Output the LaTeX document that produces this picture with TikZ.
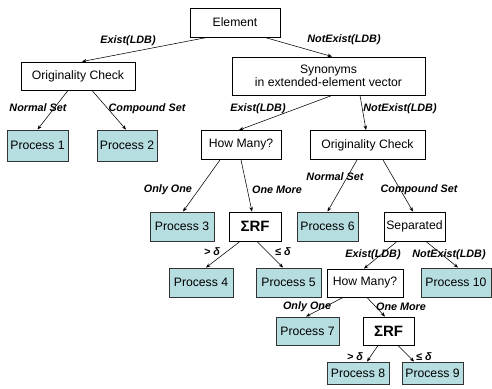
\documentclass[tikz,border=0pt]{standalone}
\usepackage{fontspec}
\setmainfont{Liberation Sans}
\usetikzlibrary{arrows.meta}
\definecolor{procfill}{HTML}{B6DDE0}
\tikzset{
  box/.style={draw=black, line width=0.9pt, fill=white, inner sep=0pt, anchor=center,
    font=\fontsize{12.2}{13.5}\selectfont, align=center},
  proc/.style={box, fill=procfill, draw=black!80},
  sig/.style={box, font=\bfseries\fontsize{15}{16}\selectfont},
  lbl/.style={font=\bfseries\itshape\fontsize{10.8}{12}\selectfont, inner sep=0pt, anchor=center},
  conn/.style={draw=black, line width=0.55pt, -{Stealth[length=4.5pt,width=3.5pt]}},
}
\begin{document}
\begin{tikzpicture}[x=1pt,y=-1pt]
\useasboundingbox (0,0) rectangle (492,388);
% boxes
\node[box, minimum width=90pt, minimum height=29pt] (el) at (235,22.5) {Element};
\node[box, minimum width=114pt, minimum height=28pt] (ocl) at (78,76) {Originality Check};
\node[box, minimum width=193pt, minimum height=38pt] (syn) at (328.5,76) {Synonyms\\in extended-element vector};
\node[proc, minimum width=61pt, minimum height=31pt] (p1) at (37.5,145.5) {Process 1};
\node[proc, minimum width=60pt, minimum height=31pt] (p2) at (127,145.5) {Process 2};
\node[box, minimum width=80pt, minimum height=29pt] (hm1) at (241,145) {How Many?};
\node[box, minimum width=115pt, minimum height=29pt] (ocr) at (367.5,145) {Originality Check};
\node[proc, minimum width=64pt, minimum height=29pt] (p3) at (182,226.5) {Process 3};
\node[sig, minimum width=52pt, minimum height=29pt] (rf1) at (255,226.5) {ΣRF};
\node[proc, minimum width=61pt, minimum height=29pt] (p6) at (327.5,226.5) {Process 6};
\node[box, minimum width=61pt, minimum height=29pt] (sep) at (414.5,226.5) {Separated};
\node[proc, minimum width=64pt, minimum height=29pt] (p4) at (201,282.5) {Process 4};
\node[proc, minimum width=65pt, minimum height=29pt] (p5) at (288.5,282.5) {Process 5};
\node[box, minimum width=76pt, minimum height=28pt] (hm2) at (365,283) {How Many?};
\node[proc, minimum width=70pt, minimum height=29pt] (p10) at (456,282.5) {Process 10};
\node[proc, minimum width=63pt, minimum height=28pt] (p7) at (307.5,331) {Process 7};
\node[sig, minimum width=51pt, minimum height=28pt] (rf2) at (388.5,331) {ΣRF};
\node[proc, minimum width=62pt, minimum height=22pt] (p8) at (358,373) {Process 8};
\node[proc, minimum width=61pt, minimum height=22pt] (p9) at (432.5,373) {Process 9};
% connectors
\draw[conn] ([xshift=-28pt]el.south) -- ([xshift=4pt]ocl.north);
\draw[conn] ([xshift=30pt]el.south) -- ([xshift=3.5pt]syn.north);
\draw[conn] ([xshift=-10pt]ocl.south) -- (p1.north);
\draw[conn] ([xshift=14pt]ocl.south) -- ([xshift=-1pt]p2.north);
\draw[conn] ([xshift=3.5pt]syn.south) -- ([xshift=-2pt]hm1.north);
\draw[conn] ([xshift=31.5pt]syn.south) -- ([xshift=-1.5pt]ocr.north);
\draw[conn] ([xshift=-21pt]hm1.south) -- ([xshift=1pt]p3.north);
\draw[conn] (hm1.south) -- ([xshift=-3pt]rf1.north);
\draw[conn] ([xshift=-10.5pt]ocr.south) -- (p6.north);
\draw[conn] ([xshift=15.5pt]ocr.south) -- ([xshift=-1.5pt]sep.north);
\draw[conn] ([xshift=-15pt]rf1.south) -- ([xshift=5pt]p4.north);
\draw[conn] ([xshift=2pt]rf1.south) -- ([xshift=-5.5pt]p5.north);
\draw[conn] ([xshift=-17.5pt]sep.south) -- ([xshift=-1pt]hm2.north);
\draw[conn] ([xshift=11.5pt]sep.south) -- ([xshift=2pt]p10.north);
\draw[conn] ([xshift=-22pt]hm2.south) -- ([xshift=-1.5pt]p7.north);
\draw[conn] ([xshift=2pt]hm2.south) -- ([xshift=-3.5pt]rf2.north);
\draw[conn] ([xshift=-10.5pt]rf2.south) -- ([xshift=9pt]p8.north);
\draw[conn] ([xshift=9.5pt]rf2.south) -- ([xshift=-18.5pt]p9.north);
% labels
\node[lbl] (l1) at (128,41) {Exist(LDB)};
\node[lbl] (l2) at (344,40) {NotExist(LDB)};
\node[lbl] (l3) at (38,108) {Normal Set};
\node[lbl] (l4) at (147,109) {Compound Set};
\node[lbl] (l5) at (258,109) {Exist(LDB)};
\node[lbl] (l6) at (400,109) {NotExist(LDB)};
\node[lbl] (l7) at (168,190) {Only One};
\node[lbl] (l8) at (277,190) {One More};
\node[lbl] (l9) at (335,177) {Normal Set};
\node[lbl] (l10) at (419,190) {Compound Set};
\node[lbl] (l11) at (212,252) {> δ};
\node[lbl] (l12) at (283,252) {≤ δ};
\node[lbl] (l13) at (373,255) {Exist(LDB)};
\node[lbl] (l14) at (449,255) {NotExist(LDB)};
\node[lbl] (l15) at (307,307) {Only One};
\node[lbl] (l16) at (401,307) {One More};
\node[lbl] (l17) at (355,357) {> δ};
\node[lbl] (l18) at (424,357) {≤ δ};
\end{tikzpicture}
\end{document}
